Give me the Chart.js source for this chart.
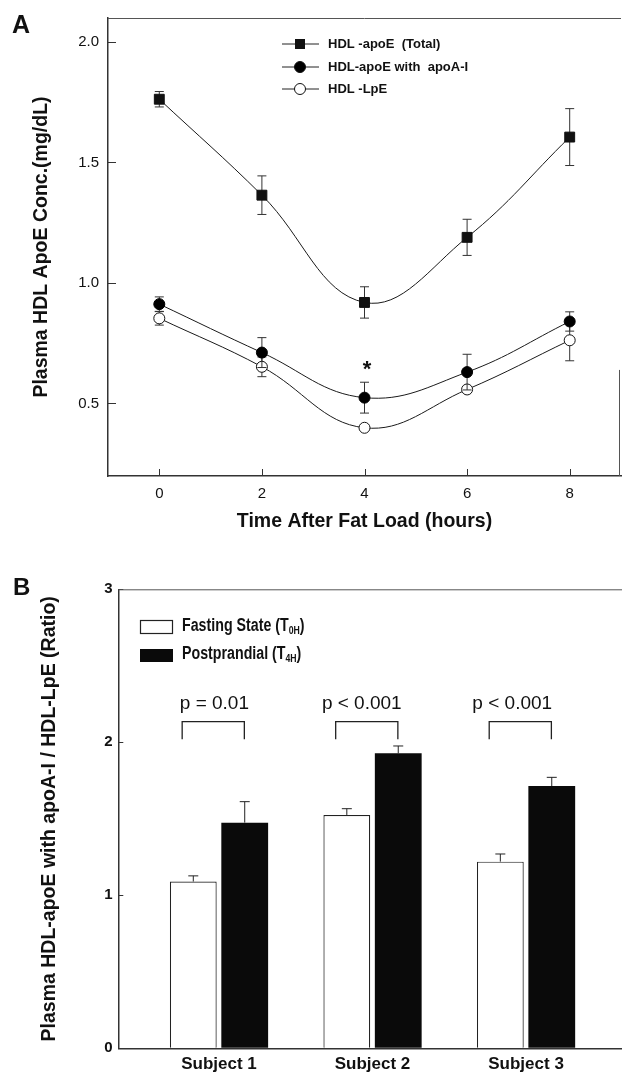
<!DOCTYPE html>
<html>
<head>
<meta charset="utf-8">
<script src="https://cdn.jsdelivr.net/npm/chart.js@4.4.1/dist/chart.umd.min.js"></script>
<style>
body { margin: 0; background: #fff; }
#wrapA { position: absolute; left: 0; top: 0; }
#wrapB { position: absolute; left: 0; top: 550px; }
</style>
</head>
<body>
<div id="wrapA"><canvas id="ChartA" width="622" height="550"></canvas></div>
<div id="wrapB"><canvas id="ChartB" width="622" height="528"></canvas></div>
<script>
// panel A values
var hours = [0, 2, 4, 6, 8];
var totalApoE = [1.763, 1.365, 0.92, 1.19, 1.606];
var totalErr = [0.032, 0.08, 0.065, 0.075, 0.118];
var withApoA = [0.913, 0.712, 0.525, 0.631, 0.841];
var withApoAErr = [0.03, 0.062, 0.064, 0.074, 0.04];
var lpE = [0.854, 0.653, 0.40, 0.559, 0.763];
var lpEErr = [0.028, 0.041, 0, 0, 0.085];
var seriesNamesA = ['HDL -apoE  (Total)', 'HDL-apoE with  apoA-I', 'HDL -LpE'];
var yTicksA = [0.5, 1.0, 1.5, 2.0];
var xTicksA = [0, 2, 4, 6, 8];

// panel B values
var subjects = ['Subject 1', 'Subject 2', 'Subject 3'];
var fasting = [1.09, 1.525, 1.22];
var fastingErr = [0.037, 0.041, 0.05];
var postprandial = [1.475, 1.928, 1.714];
var postErr = [0.137, 0.048, 0.057];
var pValues = ['p = 0.01', 'p < 0.001', 'p < 0.001'];
var groupNames = ['Fasting State (T', 'Postprandial (T'];
var groupSubs = ['0H', '4H'];
var yTicksB = [0, 1, 2, 3];

var fontFam = '"Liberation Sans", Arial, Helvetica, sans-serif';
Chart.defaults.font.family = fontFam;
Chart.defaults.color = '#111';

function toPoints(xs, ys) {
    return xs.map(function (x, i) { return { x: x, y: ys[i] }; });
}

// keep the plot box where the figure has it, no label padding
function noPadX(scale, h) {
    scale.height = h;
    scale.paddingLeft = 0;
    scale.paddingRight = 0;
}
function noPadY(scale, w) {
    scale.width = w;
    scale.paddingTop = 0;
    scale.paddingBottom = 0;
}

function drawMarker(ctx, kind, x, y) {
    ctx.save();
    ctx.lineWidth = 1;
    ctx.strokeStyle = '#111';
    if (kind == 0) {
        ctx.fillStyle = '#111';
        ctx.fillRect(x - 5, y - 5, 10, 10);
    } else {
        ctx.beginPath();
        ctx.arc(x, y, 5.5, 0, Math.PI * 2);
        ctx.fillStyle = kind == 1 ? '#000' : '#fff';
        ctx.fill();
        ctx.stroke();
    }
    ctx.restore();
}

// error bars of each series go in just before that series, so the
// open circles hide their own bars but not the bars of the series above
var errBarsA = {
    id: 'errBarsA',
    beforeDatasetDraw: function (chart, args) {
        var errs = [totalErr, withApoAErr, lpEErr];
        var ctx = chart.ctx;
        var yScale = chart.scales.y;
        var ds = chart.data.datasets[args.index];
        ctx.save();
        ctx.strokeStyle = '#333';
        ctx.lineWidth = 1;
        args.meta.data.forEach(function (pt, i) {
            var e = errs[args.index][i];
            if (!e) return;
            var v = ds.data[i].y;
            var top = yScale.getPixelForValue(v + e);
            var bot = yScale.getPixelForValue(v - e);
            ctx.beginPath();
            ctx.moveTo(pt.x, top); ctx.lineTo(pt.x, bot);
            ctx.moveTo(pt.x - 4.5, top); ctx.lineTo(pt.x + 4.5, top);
            ctx.moveTo(pt.x - 4.5, bot); ctx.lineTo(pt.x + 4.5, bot);
            ctx.stroke();
        });
        ctx.restore();
    }
};

var decorA = {
    id: 'decorA',
    afterDraw: function (chart) {
        var ctx = chart.ctx;
        var area = chart.chartArea;
        var xScale = chart.scales.x;
        ctx.save();
        ctx.strokeStyle = '#555';
        ctx.lineWidth = 1;
        ctx.beginPath();
        ctx.moveTo(area.left, area.top + 0.5);
        ctx.lineTo(area.right, area.top + 0.5);
        // only the lower part of the right frame shows in the figure
        ctx.moveTo(area.right - 1.5, area.bottom);
        ctx.lineTo(area.right - 1.5, chart.scales.y.getPixelForValue(0.64));
        ctx.stroke();

        // inward x tick marks
        ctx.strokeStyle = '#333';
        ctx.beginPath();
        xTicksA.forEach(function (v) {
            var px = Math.round(xScale.getPixelForValue(v)) + 0.5;
            ctx.moveTo(px, area.bottom);
            ctx.lineTo(px, area.bottom - 7);
        });
        ctx.stroke();

        // legend
        var rowsY = [44, 67, 89];
        for (var i = 0; i < 3; i++) {
            ctx.strokeStyle = '#222';
            ctx.beginPath();
            ctx.moveTo(282, rowsY[i]); ctx.lineTo(319, rowsY[i]);
            ctx.stroke();
            drawMarker(ctx, i, 300, rowsY[i]);
            ctx.fillStyle = '#111';
            ctx.font = 'bold 13px ' + fontFam;
            ctx.textBaseline = 'middle';
            ctx.fillText(seriesNamesA[i], 328, rowsY[i]);
        }

        // significance mark at 4 h
        ctx.font = 'bold 22px ' + fontFam;
        ctx.textAlign = 'center';
        ctx.textBaseline = 'middle';
        ctx.fillText('*', xScale.getPixelForValue(4.05), chart.scales.y.getPixelForValue(0.64));

        ctx.textAlign = 'left';
        ctx.textBaseline = 'alphabetic';
        ctx.font = 'bold 25px ' + fontFam;
        ctx.fillText('A', 12, 33);
        ctx.restore();
    }
};

var ChartA = new Chart(document.getElementById('ChartA'), {
    type: 'line',
    data: {
        datasets: [
            {
                label: seriesNamesA[0],
                data: toPoints(hours, totalApoE),
                borderColor: '#1a1a1a', borderWidth: 1, tension: 0.4,
                pointStyle: 'rect', pointRadius: 7,
                pointBackgroundColor: '#111', pointBorderColor: '#111', pointBorderWidth: 1
            },
            {
                label: seriesNamesA[1],
                data: toPoints(hours, withApoA),
                borderColor: '#1a1a1a', borderWidth: 1, tension: 0.4,
                pointStyle: 'circle', pointRadius: 5.5,
                pointBackgroundColor: '#000', pointBorderColor: '#000', pointBorderWidth: 1
            },
            {
                label: seriesNamesA[2],
                data: toPoints(hours, lpE),
                borderColor: '#1a1a1a', borderWidth: 1, tension: 0.4,
                pointStyle: 'circle', pointRadius: 5.5,
                pointBackgroundColor: '#fff', pointBorderColor: '#111', pointBorderWidth: 1
            }
        ]
    },
    options: {
        responsive: false,
        animation: false,
        layout: { autoPadding: false, padding: { top: 18, right: 1, left: 0, bottom: 0 } },
        plugins: { legend: { display: false }, tooltip: { enabled: false } },
        scales: {
            x: {
                type: 'linear', min: -1, max: 9,
                afterBuildTicks: function (scale) {
                    scale.ticks = xTicksA.map(function (v) { return { value: v }; });
                },
                afterFit: function (scale) { noPadX(scale, 74); },
                grid: { drawOnChartArea: false, drawTicks: false, color: '#333' },
                border: { color: '#333', width: 1.5 },
                ticks: { autoSkip: false, maxRotation: 0, padding: 8.6, font: { size: 15 }, color: '#111' },
                title: {
                    display: true, text: 'Time After Fat Load (hours)',
                    font: { size: 19.5, weight: 'bold' }, color: '#111',
                    padding: { top: 0, bottom: 16.3 }
                }
            },
            y: {
                type: 'linear', min: 0.2, max: 2.1,
                afterBuildTicks: function (scale) {
                    scale.ticks = yTicksA.map(function (v) { return { value: v }; });
                },
                afterFit: function (scale) { noPadY(scale, 108); },
                grid: { drawOnChartArea: false, drawTicks: true, tickLength: -8, color: '#333' },
                border: { color: '#333', width: 1.5 },
                ticks: {
                    autoSkip: false, padding: 17, font: { size: 15 }, color: '#111',
                    callback: function (v) { return v.toFixed(1); }
                },
                title: {
                    display: true, text: 'Plasma HDL ApoE Conc.(mg/dL)',
                    font: { size: 19.5, weight: 'bold' }, color: '#111',
                    padding: { top: 30, bottom: 0 }
                }
            }
        }
    },
    plugins: [errBarsA, decorA]
});

function drawSubText(ctx, x, y, main, sub, tail, size) {
    ctx.save();
    ctx.translate(x, y);
    ctx.scale(0.79, 1);
    ctx.fillStyle = '#111';
    ctx.textBaseline = 'middle';
    ctx.font = 'bold ' + size + 'px ' + fontFam;
    ctx.fillText(main, 0, 0);
    var w = ctx.measureText(main).width;
    ctx.font = 'bold ' + Math.round(size * 0.6) + 'px ' + fontFam;
    ctx.fillText(sub, w, size * 0.3);
    var w2 = ctx.measureText(sub).width;
    ctx.font = 'bold ' + size + 'px ' + fontFam;
    ctx.fillText(tail, w + w2, 0);
    ctx.restore();
}

var decorB = {
    id: 'decorB',
    afterDatasetsDraw: function (chart) {
        var ctx = chart.ctx;
        var yScale = chart.scales.y;
        var xScale = chart.scales.x;
        var errs = [fastingErr, postErr];
        ctx.save();
        ctx.strokeStyle = '#222';
        ctx.lineWidth = 1;
        // upward error bars
        chart.data.datasets.forEach(function (ds, d) {
            chart.getDatasetMeta(d).data.forEach(function (bar, i) {
                var top = yScale.getPixelForValue(ds.data[i].y + errs[d][i]);
                ctx.beginPath();
                ctx.moveTo(bar.x, bar.y); ctx.lineTo(bar.x, top);
                ctx.moveTo(bar.x - 5, top); ctx.lineTo(bar.x + 5, top);
                ctx.stroke();
            });
        });

        // brackets and p values
        var pShift = [-0.03, -0.07, -0.09];
        ctx.lineWidth = 1.3;
        for (var i = 0; i < subjects.length; i++) {
            var c = i + 1;
            var xl = xScale.getPixelForValue(c - 0.24);
            var xr = xScale.getPixelForValue(c + 0.165);
            var yh = yScale.getPixelForValue(2.135);
            var yb = yScale.getPixelForValue(2.02);
            ctx.beginPath();
            ctx.moveTo(xl, yb); ctx.lineTo(xl, yh); ctx.lineTo(xr, yh); ctx.lineTo(xr, yb);
            ctx.stroke();
            ctx.fillStyle = '#111';
            ctx.font = '19px ' + fontFam;
            ctx.textAlign = 'center';
            ctx.textBaseline = 'middle';
            ctx.fillText(pValues[i], xScale.getPixelForValue(c + pShift[i]), yScale.getPixelForValue(2.25));
        }
        ctx.restore();
    },
    afterDraw: function (chart) {
        var ctx = chart.ctx;
        var area = chart.chartArea;
        ctx.save();
        ctx.strokeStyle = '#555';
        ctx.lineWidth = 1;
        ctx.beginPath();
        ctx.moveTo(area.left, area.top + 0.5);
        ctx.lineTo(area.right, area.top + 0.5);
        ctx.stroke();

        // legend
        ctx.lineWidth = 1.2;
        ctx.strokeStyle = '#222';
        ctx.fillStyle = '#fff';
        ctx.fillRect(140, 70, 33, 13);
        ctx.strokeRect(140.5, 70.5, 32, 13);
        ctx.fillStyle = '#0a0a0a';
        ctx.fillRect(140, 99, 33, 13);
        drawSubText(ctx, 182, 76, groupNames[0], groupSubs[0], ')', 18);
        drawSubText(ctx, 182, 104, groupNames[1], groupSubs[1], ')', 18);

        ctx.fillStyle = '#111';
        ctx.font = 'bold 24px ' + fontFam;
        ctx.textBaseline = 'alphabetic';
        ctx.fillText('B', 13, 45);
        ctx.restore();
    }
};

var ChartB = new Chart(document.getElementById('ChartB'), {
    type: 'bar',
    data: {
        datasets: [
            {
                label: groupNames[0] + groupSubs[0] + ')',
                data: toPoints([1, 2, 3], fasting),
                backgroundColor: '#fff', borderColor: '#222', borderWidth: 1.2,
                categoryPercentage: 0.67, barPercentage: 0.91
            },
            {
                label: groupNames[1] + groupSubs[1] + ')',
                data: toPoints([1, 2, 3], postprandial),
                backgroundColor: '#0a0a0a', borderColor: '#0a0a0a', borderWidth: 0,
                categoryPercentage: 0.67, barPercentage: 0.91
            }
        ]
    },
    options: {
        responsive: false,
        animation: false,
        layout: { autoPadding: false, padding: { top: 39.3, right: 0, left: 0, bottom: 0 } },
        plugins: { legend: { display: false }, tooltip: { enabled: false } },
        scales: {
            x: {
                type: 'linear', min: 0.344, max: 3.625, offset: false,
                afterBuildTicks: function (scale) {
                    scale.ticks = subjects.map(function (s, i) { return { value: i + 1 }; });
                },
                afterFit: function (scale) { noPadX(scale, 29.7); },
                grid: { display: false, drawTicks: false },
                border: { color: '#333', width: 1.5 },
                ticks: {
                    autoSkip: false, maxRotation: 0, padding: 5.5,
                    font: { size: 17, weight: 'bold' }, color: '#111',
                    callback: function (v) { return subjects[Math.round(v) - 1]; }
                }
            },
            y: {
                type: 'linear', min: 0, max: 3,
                afterBuildTicks: function (scale) {
                    scale.ticks = yTicksB.map(function (v) { return { value: v }; });
                },
                afterFit: function (scale) { noPadY(scale, 118.3); },
                grid: { drawOnChartArea: false, drawTicks: true, tickLength: -5, color: '#333' },
                border: { color: '#333', width: 1.5 },
                ticks: { autoSkip: false, padding: 10.8, font: { size: 15, weight: 'bold' }, color: '#111' },
                title: {
                    display: true, text: 'Plasma HDL-apoE with apoA-I / HDL-LpE (Ratio)',
                    font: { size: 19.5, weight: 'bold' }, color: '#111',
                    padding: { top: 38, bottom: 0 }
                }
            }
        }
    },
    plugins: [decorB]
});
</script>
</body>
</html>
